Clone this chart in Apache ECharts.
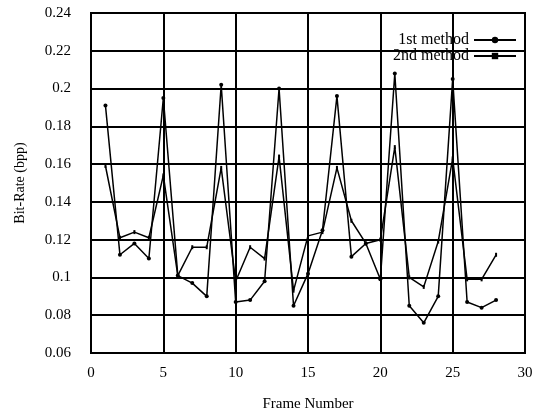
<!DOCTYPE html>
<html>
<head>
<meta charset="utf-8">
<script src="https://cdn.jsdelivr.net/npm/echarts@6/dist/echarts.min.js"></script>
<style>
  html, body { margin: 0; padding: 0; background: #fff; }
  #chart { width: 538px; height: 418px; }
</style>
</head>
<body>
<div id="chart"></div>
<script>
// frame numbers 1..28
const frames = [1, 2, 3, 4, 5, 6, 7, 8, 9, 10, 11, 12, 13, 14,
  15, 16, 17, 18, 19, 20, 21, 22, 23, 24, 25, 26, 27, 28]

const firstMethod = [0.191, 0.112, 0.118, 0.110, 0.195, 0.101, 0.097, 0.090, 0.202, 0.087,
  0.088, 0.098, 0.200, 0.085, 0.102, 0.125, 0.196, 0.111, 0.118, 0.099,
  0.208, 0.085, 0.076, 0.090, 0.205, 0.087, 0.084, 0.088]

const secondMethod = [0.159, 0.121, 0.124, 0.121, 0.154, 0.101, 0.116, 0.116, 0.158, 0.098,
  0.116, 0.110, 0.164, 0.093, 0.122, 0.124, 0.158, 0.130, 0.118, 0.120,
  0.169, 0.100, 0.095, 0.119, 0.163, 0.099, 0.099, 0.112]

const seriesNames = ['1st method', '2nd method']
const yTicks = ['0.06', '0.08', '0.1', '0.12', '0.14', '0.16', '0.18', '0.2', '0.22', '0.24']

const font = 'Liberation Serif'

const toPairs = vals => frames.map((f, i) => [f, vals[i]])

const chart = echarts.init(document.getElementById('chart'))
chart.setOption({
  animation: false,
  backgroundColor: '#fff',
  textStyle: { fontFamily: font, color: '#000' },
  grid: {
    left: 91, right: 13, top: 13, bottom: 65,
    show: true, borderColor: '#000', borderWidth: 2,
  },
  legend: {
    right: 16, top: 27,
    orient: 'vertical',
    align: 'right',
    itemGap: 0,
    itemWidth: 42,
    itemHeight: 8,
    textStyle: { fontFamily: font, fontSize: 16, color: '#000', padding: [0, 0, 0, 0] },
    data: seriesNames,
  },
  xAxis: {
    type: 'value',
    min: 0, max: 30, interval: 5,
    name: 'Frame Number',
    nameLocation: 'middle',
    nameGap: 44,
    nameTextStyle: { fontFamily: font, fontSize: 15, color: '#000' },
    axisLine: { lineStyle: { color: '#000', width: 2 } },
    axisTick: { show: false },
    axisLabel: { fontFamily: font, fontSize: 15, color: '#000', margin: 13 },
    splitLine: { lineStyle: { color: '#000', width: 2 } },
  },
  yAxis: {
    type: 'value',
    min: 0.06, max: 0.24, interval: 0.02,
    name: 'Bit-Rate (bpp)',
    nameLocation: 'middle',
    nameGap: 64,
    nameTextStyle: { fontFamily: font, fontSize: 14, color: '#000' },
    axisLine: { show: true, lineStyle: { color: '#000', width: 2 } },
    axisTick: { show: false },
    axisLabel: {
      fontFamily: font, fontSize: 15, color: '#000', margin: 20,
      formatter: (v) => yTicks[Math.round((v - 0.06) / 0.02)],
    },
    splitLine: { lineStyle: { color: '#000', width: 2 } },
  },
  series: [
    {
      name: seriesNames[0],
      type: 'line',
      data: toPairs(firstMethod),
      symbol: 'circle',
      symbolSize: 4,
      itemStyle: { color: '#000' },
      lineStyle: { color: '#000', width: 1.5 },
    },
    {
      name: seriesNames[1],
      type: 'line',
      data: toPairs(secondMethod),
      symbol: 'rect',
      symbolSize: [2, 4],
      itemStyle: { color: '#000' },
      lineStyle: { color: '#000', width: 1.5 },
    },
  ],
})
</script>
</body>
</html>
